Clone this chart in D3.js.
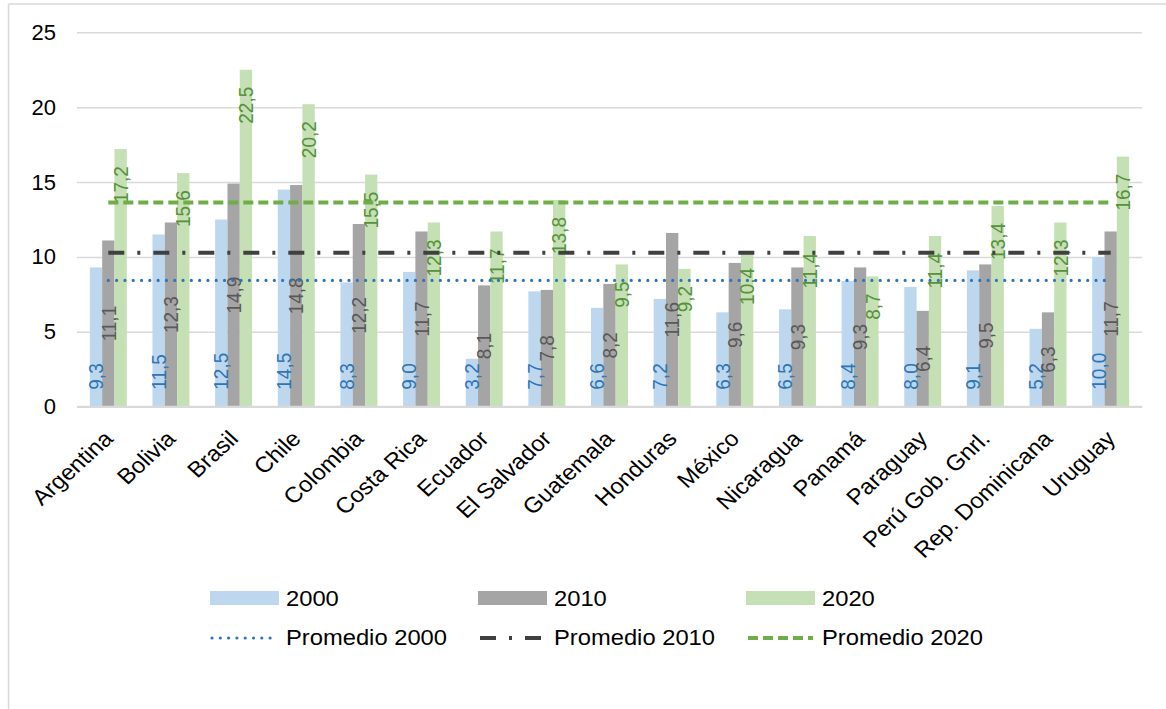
<!DOCTYPE html>
<html>
<head>
<meta charset="utf-8">
<script src="https://cdn.jsdelivr.net/npm/d3@7"></script>
<style>
  body { margin: 0; background: #fff; }
  svg { display: block; font-family: "Liberation Sans", Arial, sans-serif; }
</style>
</head>
<body>
<svg id="chart"></svg>
<script>
// data
let countries = ['Argentina', 'Bolivia', 'Brasil', 'Chile', 'Colombia', 'Costa Rica', 'Ecuador',
  'El Salvador', 'Guatemala', 'Honduras', 'México', 'Nicaragua', 'Panamá', 'Paraguay',
  'Perú Gob. Gnrl.', 'Rep. Dominicana', 'Uruguay']
let years = ['2000', '2010', '2020']
let values2000 = [9.3, 11.5, 12.5, 14.5, 8.3, 9.0, 3.2, 7.7, 6.6, 7.2, 6.3, 6.5, 8.4, 8.0, 9.1, 5.2, 10.0]
let values2010 = [11.1, 12.3, 14.9, 14.8, 12.2, 11.7, 8.1, 7.8, 8.2, 11.6, 9.6, 9.3, 9.3, 6.4, 9.5, 6.3, 11.7]
let values2020 = [17.2, 15.6, 22.5, 20.2, 15.5, 12.3, 11.7, 13.8, 9.5, 9.2, 10.4, 11.4, 8.7, 11.4, 13.4, 12.3, 16.7]
let yTicks = [0, 5, 10, 15, 20, 25]

// canvas dimensions
let width = 1166
let height = 709
let plotLeft = 77
let plotRight = 1142
let plotTop = 32.3
let plotBottom = 406.7
// the source picture is a little wider than tall, so text gets a small x stretch
let stretch = 1.08

let series = [
  { year: '2000', values: values2000, fill: '#bdd7ee', label: '#2e75b6', pos: 'base',
    line: { color: '#2e75b6', width: 3.2, dash: '0 8.3', cap: 'round' } },
  { year: '2010', values: values2010, fill: '#a5a5a5', label: '#595959', pos: 'center',
    line: { color: '#404040', width: 4, dash: '16 13 3 13', cap: 'butt' } },
  { year: '2020', values: values2020, fill: '#c5e0b4', label: '#55923a', pos: 'end',
    line: { color: '#70ad47', width: 4, dash: '10 5', cap: 'butt' } }
]

let svg = d3.select('#chart').attr('width', width).attr('height', height)

// frame
svg.append('line').attr('x1', 8.5).attr('x2', width).attr('y1', 4).attr('y2', 4)
  .attr('stroke', '#d9d9d9').attr('stroke-width', 1.5)
svg.append('line').attr('x1', 8.5).attr('x2', 8.5).attr('y1', 4).attr('y2', height)
  .attr('stroke', '#d9d9d9').attr('stroke-width', 1.5)

// scales
let xScale = d3.scaleBand().domain(countries).range([plotLeft, plotRight])
  .paddingInner(0.41).paddingOuter(0.205)
let xInner = d3.scaleBand().domain(years).range([0, xScale.bandwidth()])
let yScale = d3.scaleLinear().domain([0, 25]).range([plotBottom, plotTop])

// gridlines + y labels
let yAxis = d3.axisLeft(yScale).tickValues(yTicks).tickSize(-(plotRight - plotLeft)).tickPadding(21)
let gy = svg.append('g').attr('transform', 'translate(' + plotLeft + ',0)').call(yAxis)
gy.select('.domain').remove()
gy.selectAll('.tick line').attr('stroke', '#d9d9d9').attr('stroke-width', 1.5)
gy.selectAll('.tick text').attr('font-size', 22).attr('fill', '#000')
  .attr('font-family', '"Liberation Sans", Arial, sans-serif')

// bars
let groups = svg.selectAll('.country')
  .data(countries)
  .enter()
  .append('g')
  .attr('class', 'country')
  .attr('transform', (d) => 'translate(' + xScale(d) + ',0)')

series.forEach((s) => {
  groups.append('rect')
    .attr('x', xInner(s.year))
    .attr('width', xInner.bandwidth())
    .attr('y', (d, i) => yScale(s.values[i]))
    .attr('height', (d, i) => plotBottom - yScale(s.values[i]))
    .attr('fill', s.fill)
})

// x axis line
svg.append('line').attr('x1', plotLeft).attr('x2', plotRight)
  .attr('y1', plotBottom).attr('y2', plotBottom)
  .attr('stroke', '#d9d9d9').attr('stroke-width', 2)

// average lines
let lineStart = xScale(countries[0]) + xScale.bandwidth() / 2
let lineEnd = xScale(countries[countries.length - 1]) + xScale.bandwidth() / 2
series.forEach((s) => {
  let avg = d3.mean(s.values)
  svg.append('line')
    .attr('x1', lineStart).attr('x2', lineEnd)
    .attr('y1', yScale(avg)).attr('y2', yScale(avg))
    .attr('stroke', s.line.color)
    .attr('stroke-width', s.line.width)
    .attr('stroke-dasharray', s.line.dash)
    .attr('stroke-linecap', s.line.cap)
})

// data labels (rotated)
let fmt = (v) => v.toFixed(1).replace('.', ',')
series.forEach((s) => {
  groups.append('text')
    .attr('transform', (d, i) => {
      let v = s.values[i]
      let cx = xInner(s.year) + xInner.bandwidth() / 2
      let y
      if (s.pos === 'base') y = plotBottom - 17
      else if (s.pos === 'center') y = (plotBottom + yScale(v)) / 2
      else y = yScale(v) + 17
      return 'translate(' + cx + ',' + y + ') scale(' + stretch + ',1) rotate(-90)'
    })
    .attr('text-anchor', s.pos === 'base' ? 'start' : (s.pos === 'center' ? 'middle' : 'end'))
    .attr('dy', '0.35em')
    .attr('font-size', 19)
    .attr('fill', s.label)
    .text((d, i) => fmt(s.values[i]))
})

// category labels
svg.selectAll('.cat')
  .data(countries)
  .enter()
  .append('text')
  .attr('class', 'cat')
  .attr('transform', (d) => 'translate(' + (xScale(d) + xScale.bandwidth() / 2 + 6) + ',440) scale(1.09,1) rotate(-45)')
  .attr('text-anchor', 'end')
  .attr('font-size', 22)
  .attr('fill', '#000')
  .text((d) => d)

// legend
let legendX = [210, 478, 746]
series.forEach((s, i) => {
  let lx = legendX[i]
  svg.append('rect').attr('x', lx).attr('y', 591).attr('width', 69).attr('height', 14).attr('fill', s.fill)
  svg.append('text').attr('transform', 'translate(' + (lx + 76) + ',606) scale(' + stretch + ',1)')
    .attr('font-size', 22).attr('fill', '#000').text(s.year)
  svg.append('line').attr('x1', lx + 2).attr('x2', lx + 67).attr('y1', 638).attr('y2', 638)
    .attr('stroke', s.line.color)
    .attr('stroke-width', s.line.width)
    .attr('stroke-dasharray', s.line.dash)
    .attr('stroke-linecap', s.line.cap)
  svg.append('text').attr('transform', 'translate(' + (lx + 76) + ',645) scale(' + stretch + ',1)')
    .attr('font-size', 22).attr('fill', '#000')
    .text('Promedio ' + s.year)
})
</script>
</body>
</html>
